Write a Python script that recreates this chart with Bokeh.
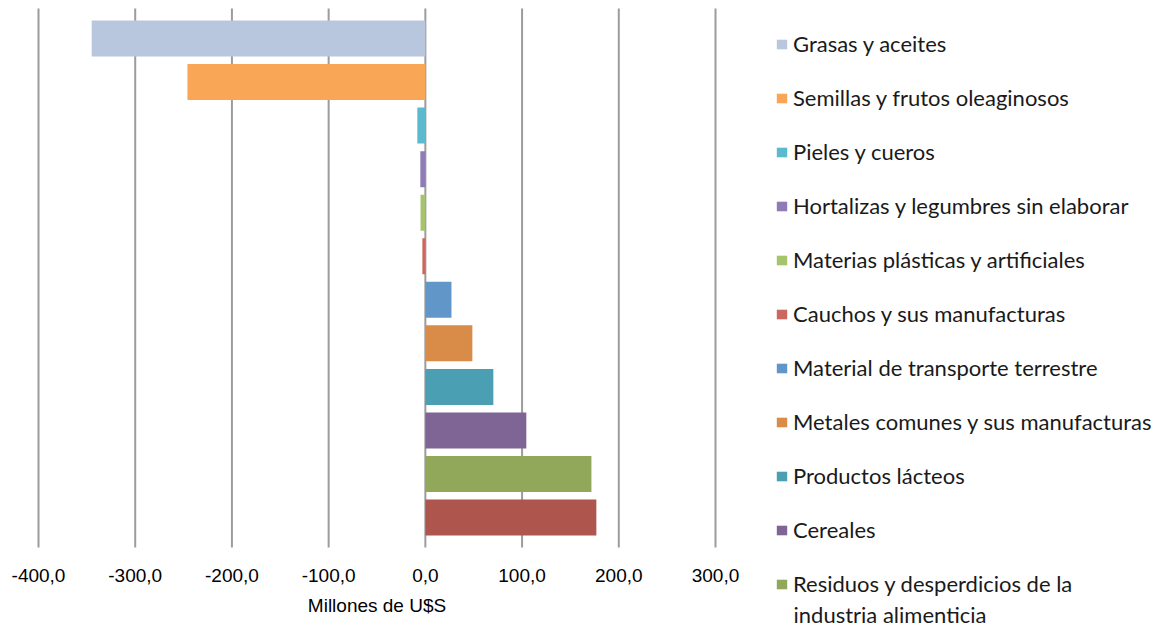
from bokeh.plotting import figure
from bokeh.models import (ColumnDataSource, Range1d, Legend, LegendItem, Label)
from bokeh.core.properties import value
from bokeh.embed import file_html
from bokeh.resources import INLINE

categories = [
    "Grasas y aceites",
    "Semillas y frutos oleaginosos",
    "Pieles y cueros",
    "Hortalizas y legumbres sin elaborar",
    "Materias plásticas y artificiales",
    "Cauchos y sus manufacturas",
    "Material de transporte terrestre",
    "Metales comunes y sus manufacturas",
    "Productos lácteos",
    "Cereales",
    "Residuos y desperdicios de la industria alimenticia",
    "Carnes",
]
legend_labels = [
    "Grasas y aceites",
    "Semillas y frutos oleaginosos",
    "Pieles y cueros",
    "Hortalizas y legumbres sin elaborar",
    "Materias plásticas y artificiales",
    "Cauchos y sus manufacturas",
    "Material de transporte terrestre",
    "Metales comunes y sus manufacturas",
    "Productos lácteos",
    "Cereales",
    "Residuos y desperdicios de la",
]
legend_continuation = "industria alimenticia"
values = [-345.0, -246.0, -8.3, -5.2, -5.0, -3.1, 27.0, 48.6, 70.3, 104.4, 171.7, 176.8]
colors = ["#B9C7DE", "#F9A656", "#5BBACD", "#8F7BB6", "#A6C36E", "#CE6660",
          "#6097C8", "#D88C48", "#4A9FB3", "#7E6595", "#91A85B", "#AE554D"]
x_ticks = [-400, -300, -200, -100, 0, 100, 200, 300]
tick_labels = [f"{t:.1f}".replace(".", ",") for t in x_ticks]
axis_title = "Millones de U$S"

n = len(categories)
source = ColumnDataSource(dict(y=list(range(n)), value=values, color=colors, name=categories))

# whole canvas is the frame; layout constants (pixels)
W, H = 1161, 628
px_per_unit = 677 / 700.0      # -400 at x=38, 300 at x=715
slot = 43.55                   # vertical distance between bars
x_start = x_ticks[0] - 38 / px_per_unit
x_end = x_start + W / px_per_unit
y_top = -38 / slot
y_bottom = y_top + H / slot

p = figure(width=W, height=H, output_backend="svg", toolbar_location=None,
           x_range=Range1d(x_start, x_end), y_range=Range1d(y_bottom, y_top),
           x_axis_location=None, y_axis_location=None,
           min_border_left=0, min_border_right=0, min_border_top=0, min_border_bottom=0)
p.outline_line_color = None
p.background_fill_color = "white"
p.border_fill_color = "white"
p.grid.visible = False

# vertical gridlines spanning the category band
grid_src = ColumnDataSource(dict(x=x_ticks))
g_top = -0.69
g_bot = (n - 1) + 0.69
p.segment(x0="x", x1="x", y0=g_top, y1=g_bot, source=grid_src,
          line_color="#9c9c9c", line_width=2)

r = p.hbar(y="y", left=0, right="value", height=0.827, color="color",
           line_color=None, source=source)

# tick labels and axis title
tick_src = ColumnDataSource(dict(x=x_ticks, t=tick_labels))
p.text(x="x", y=y_top + 575 / slot, text="t", source=tick_src,
       text_font=value("Liberation Sans"), text_font_size=value("19px"),
       text_color="#000000", text_align="center", text_baseline="middle")
p.text(x=[(x_ticks[0] + x_ticks[-1]) / 2], y=[y_top + 605 / slot], text=[axis_title],
       text_font=value("Liberation Sans"), text_font_size=value("19px"),
       text_color="#000000", text_align="center", text_baseline="middle")

items = [LegendItem(label=legend_labels[i], renderers=[r], index=i)
         for i in range(len(legend_labels))]
legend = Legend(items=items, location=(775, 31), orientation="vertical",
                margin=0, padding=0, spacing=27,
                glyph_width=13, glyph_height=12, label_height=27,
                label_standoff=5,
                label_text_font="Lato", label_text_font_size="22px",
                label_text_color="#1a1a1a",
                border_line_color=None, background_fill_alpha=0)
p.add_layout(legend)

p.add_layout(Label(x=793, y=14, x_units="screen", y_units="screen",
                   text=legend_continuation, text_font="Lato",
                   text_font_size="22px", text_color="#1a1a1a",
                   text_baseline="middle", text_align="left"))

open("out.html", "w").write(file_html(p, INLINE))
